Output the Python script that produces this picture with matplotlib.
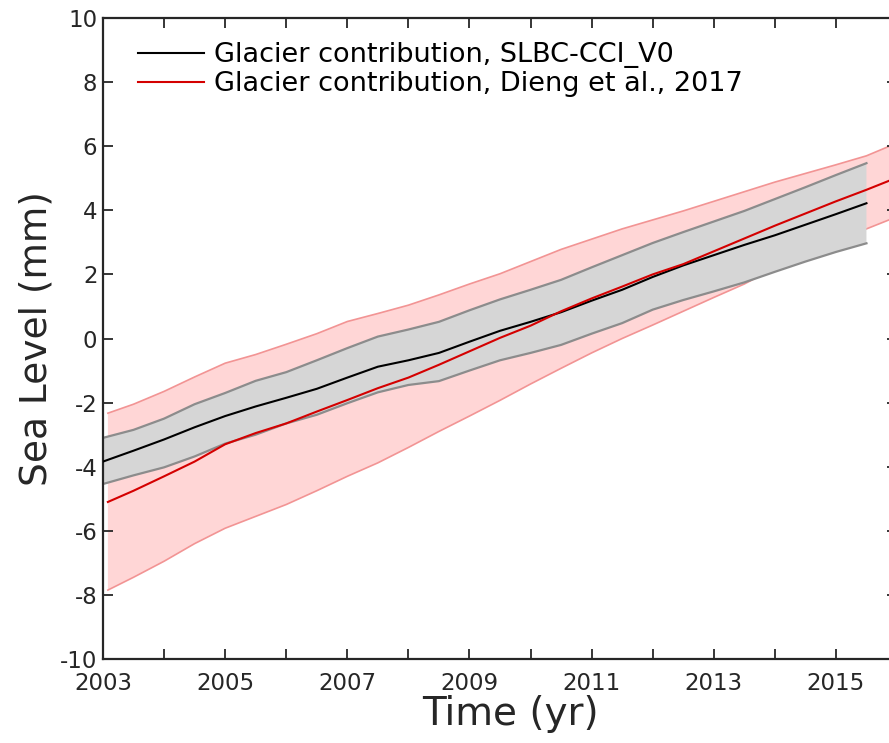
import numpy as np
import matplotlib.pyplot as plt

# SLBC-CCI_V0 glacier contribution (mean and uncertainty envelope)
t_slbc = np.arange(2003.0, 2015.51, 0.5)
slbc_mean = [-3.84, -3.50, -3.15, -2.77, -2.42, -2.12, -1.85, -1.57, -1.22, -0.88,
             -0.68, -0.45, -0.10, 0.24, 0.52, 0.82, 1.18, 1.52, 1.92, 2.28,
             2.60, 2.92, 3.22, 3.55, 3.88, 4.22]
slbc_upper = [-3.10, -2.85, -2.50, -2.05, -1.70, -1.32, -1.05, -0.68, -0.30, 0.06,
              0.28, 0.52, 0.88, 1.22, 1.52, 1.83, 2.22, 2.60, 2.98, 3.32,
              3.65, 3.98, 4.35, 4.72, 5.10, 5.47]
slbc_lower = [-4.54, -4.27, -4.02, -3.68, -3.28, -3.00, -2.65, -2.38, -2.02, -1.68,
              -1.45, -1.33, -1.00, -0.68, -0.45, -0.20, 0.15, 0.48, 0.90, 1.20,
              1.47, 1.75, 2.08, 2.40, 2.70, 2.97]

# Dieng et al., 2017 glacier contribution
t_dieng = [2003.08] + list(np.arange(2003.5, 2016.01, 0.5))
dieng_mean = [-5.10, -4.75, -4.30, -3.84, -3.30, -2.95, -2.65, -2.28, -1.92, -1.55,
              -1.22, -0.82, -0.40, 0.02, 0.40, 0.85, 1.25, 1.62, 2.00, 2.32,
              2.72, 3.12, 3.52, 3.90, 4.28, 4.64, 5.02]
dieng_upper = [-2.33, -2.05, -1.65, -1.20, -0.77, -0.50, -0.18, 0.15, 0.53, 0.78,
               1.04, 1.36, 1.70, 2.02, 2.40, 2.78, 3.10, 3.42, 3.70, 3.98,
               4.28, 4.58, 4.88, 5.15, 5.42, 5.70, 6.10]
dieng_lower = [-7.85, -7.45, -6.95, -6.40, -5.92, -5.55, -5.18, -4.75, -4.30, -3.88,
               -3.40, -2.90, -2.42, -1.93, -1.42, -0.93, -0.45, 0.00, 0.42, 0.85,
               1.28, 1.70, 2.20, 2.60, 3.00, 3.42, 3.80]

years = np.arange(2003, 2017)
year_labels = [str(y) if y % 2 == 1 else "" for y in years]
sl_ticks = np.arange(-10, 11, 2)

plt.rcParams["font.family"] = "DejaVu Sans"
plt.rcParams["axes.unicode_minus"] = False
fig = plt.figure(figsize=(8.89, 7.43), dpi=100)
ax = fig.add_axes([103 / 889, 84 / 743, 794 / 889, 641 / 743])

# shaded envelopes, outlined only along their upper and lower bounds
ax.fill_between(t_dieng, dieng_lower, dieng_upper, facecolor="#ffd6d6",
                linewidth=0, zorder=1)
ax.plot(t_dieng, dieng_upper, color="#f29494", linewidth=1.2, zorder=1.5)
ax.plot(t_dieng, dieng_lower, color="#f29494", linewidth=1.2, zorder=1.5)
ax.fill_between(t_slbc, slbc_lower, slbc_upper, facecolor="#d6d6d6",
                linewidth=0, zorder=2)
ax.plot(t_slbc, slbc_upper, color="#8c8c8c", linewidth=1.6, zorder=2.5)
ax.plot(t_slbc, slbc_lower, color="#8c8c8c", linewidth=1.6, zorder=2.5)

ax.plot(t_slbc, slbc_mean, color="black", linewidth=1.5, zorder=3,
        label="Glacier contribution, SLBC-CCI_V0")
ax.plot(t_dieng, dieng_mean, color="#d40000", linewidth=1.5, zorder=4,
        label="Glacier contribution, Dieng et al., 2017")

ax.set_xlim(2003, 2016)
ax.set_ylim(-10, 10)
ax.set_xticks(years)
ax.set_xticklabels(year_labels)
ax.set_yticks(sl_ticks)
ax.tick_params(direction="in", length=7, width=1.3, top=True, right=True,
               labelsize=16.5, colors="#262626")
ax.tick_params(axis="x", pad=9)
ax.tick_params(axis="y", pad=4)
for s in ax.spines.values():
    s.set_linewidth(1.6)
    s.set_color("#262626")

ax.set_xlabel("Time (yr)", fontsize=28, color="#262626")
ax.xaxis.set_label_coords(0.513, -0.056)
ax.set_ylabel("Sea Level (mm)", fontsize=27, color="#262626", labelpad=4)

ax.legend(loc="upper left", bbox_to_anchor=(0.044, 0.962), frameon=False,
          fontsize=19.5, handlelength=2.45, handletextpad=0.35,
          labelspacing=0.1, borderpad=0, borderaxespad=0)

fig.savefig("out.png", dpi=100)
